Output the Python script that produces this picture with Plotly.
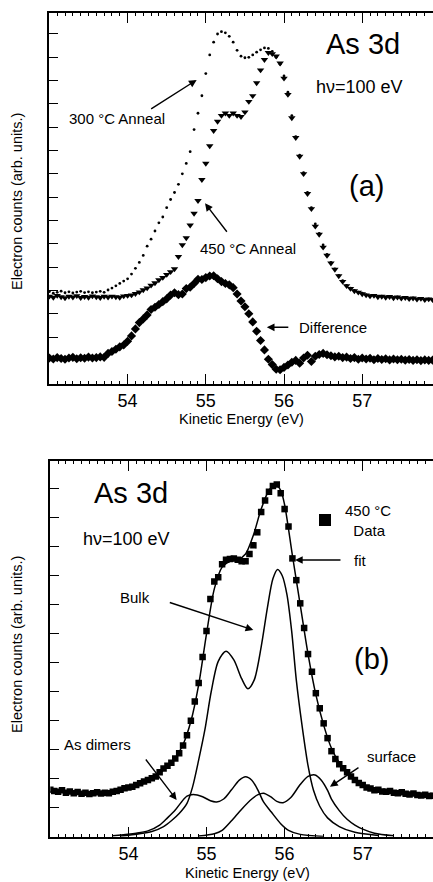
import plotly.graph_objects as go

# ---------------------------------------------------------------- data
# kinetic energy grid (eV) shared by the measured spectra
energy_ev = [53.00, 53.05, 53.10, 53.15, 53.20, 53.25, 53.30, 53.35, 53.40, 53.45,
             53.50, 53.55, 53.60, 53.65, 53.70, 53.75, 53.80, 53.85, 53.90, 53.95,
             54.00, 54.05, 54.10, 54.15, 54.20, 54.25, 54.30, 54.35, 54.40, 54.45,
             54.50, 54.55, 54.60, 54.65, 54.70, 54.75, 54.80, 54.85, 54.90, 54.95,
             55.00, 55.05, 55.10, 55.15, 55.20, 55.25, 55.30, 55.35, 55.40, 55.45,
             55.50, 55.55, 55.60, 55.65, 55.70, 55.75, 55.80, 55.85, 55.90, 55.95,
             56.00, 56.05, 56.10, 56.15, 56.20, 56.25, 56.30, 56.35, 56.40, 56.45,
             56.50, 56.55, 56.60, 56.65, 56.70, 56.75, 56.80, 56.85, 56.90, 56.95,
             57.00, 57.05, 57.10, 57.15, 57.20, 57.25, 57.30, 57.35, 57.40, 57.45,
             57.50, 57.55, 57.60, 57.65, 57.70, 57.75, 57.80, 57.85, 57.90]

# (a) As 3d after 300 C anneal (arb. units)
anneal_300 = [3.95, 3.88, 3.92, 3.97, 3.90, 3.94, 3.89, 3.93, 3.96, 3.91,
              3.94, 3.90, 3.93, 3.96, 3.92, 4.02, 4.10, 4.20, 4.30, 4.40,
              4.50, 4.70, 4.95, 5.20, 5.50, 5.90, 6.20, 6.55, 6.90, 7.15,
              7.55, 7.90, 8.20, 8.55, 9.00, 9.45, 9.95, 10.90, 11.60, 12.35,
              13.30, 14.10, 14.65, 15.00, 15.10, 15.05, 14.90, 14.65, 14.30, 14.05,
              13.98, 14.00, 14.10, 14.22, 14.32, 14.40, 14.38, 14.25, 14.00, 13.70,
              13.20, 12.50, 11.50, 10.60, 9.80, 9.05, 8.20, 7.55, 6.85, 6.45,
              5.95, 5.55, 5.20, 4.92, 4.65, 4.42, 4.22, 4.10, 4.00, 3.93,
              3.88, 3.82, 3.78, 3.79, 3.74, 3.76, 3.72, 3.74, 3.70, 3.72,
              3.68, 3.70, 3.66, 3.68, 3.64, 3.66, 3.62, 3.64, 3.61]

# (a) As 3d after 450 C anneal
anneal_450 = [3.75, 3.70, 3.78, 3.72, 3.68, 3.74, 3.71, 3.77, 3.69, 3.73,
              3.70, 3.76, 3.72, 3.69, 3.74, 3.71, 3.75, 3.72, 3.70, 3.76,
              3.78, 3.80, 3.86, 3.93, 4.02, 4.10, 4.22, 4.32, 4.45, 4.55,
              4.68, 4.80, 4.92, 5.45, 5.95, 6.25, 6.80, 7.30, 7.85, 8.75,
              9.45, 10.20, 10.85, 11.25, 11.50, 11.60, 11.50, 11.60, 11.50, 11.45,
              11.65, 12.10, 12.35, 12.90, 13.45, 13.90, 14.20, 14.15, 14.05, 13.75,
              13.10, 12.40, 11.40, 10.55, 9.75, 9.00, 8.15, 7.50, 6.75, 6.40,
              5.85, 5.50, 5.17, 4.90, 4.62, 4.38, 4.20, 4.08, 3.98, 3.92,
              3.85, 3.80, 3.76, 3.78, 3.72, 3.74, 3.70, 3.73, 3.68, 3.71,
              3.66, 3.69, 3.64, 3.67, 3.62, 3.65, 3.60, 3.63, 3.60]

# (a) difference spectrum (offset)
difference = [1.10, 1.06, 1.12, 1.08, 1.05, 1.10, 1.13, 1.07, 1.11, 1.09,
              1.14, 1.10, 1.12, 1.15, 1.13, 1.30, 1.38, 1.48, 1.58, 1.66,
              1.82, 2.05, 2.35, 2.62, 2.78, 2.95, 3.18, 3.28, 3.40, 3.52,
              3.64, 3.80, 3.90, 3.82, 3.85, 4.08, 4.14, 4.30, 4.48, 4.47,
              4.55, 4.62, 4.63, 4.50, 4.38, 4.30, 4.24, 4.12, 3.85, 3.55,
              3.30, 3.00, 2.65, 2.25, 1.85, 1.45, 1.05, 0.82, 0.62, 0.60,
              0.70, 0.80, 0.92, 1.00, 0.88, 1.10, 1.22, 0.95, 1.18, 1.25,
              1.30, 1.24, 1.20, 1.15, 1.18, 1.12, 1.14, 1.08, 1.12, 1.05,
              1.10, 1.06, 1.09, 1.03, 1.08, 1.04, 1.07, 1.02, 1.06, 1.03,
              1.05, 1.01, 1.04, 1.00, 1.03, 0.99, 1.02, 1.00, 1.01]

# (b) 450 C data used for the line-shape fit
data_450 = [1.62, 1.58, 1.55, 1.60, 1.52, 1.56, 1.50, 1.54, 1.48, 1.52,
            1.47, 1.50, 1.53, 1.49, 1.52, 1.50, 1.55, 1.58, 1.62, 1.67,
            1.70, 1.72, 1.78, 1.84, 1.90, 1.96, 2.02, 2.08, 2.22, 2.35,
            2.45, 2.55, 2.70, 2.88, 3.15, 3.50, 4.00, 4.66, 5.30, 6.20,
            7.10, 8.20, 8.80, 8.95, 9.40, 9.55, 9.58, 9.60, 9.55, 9.50,
            9.50, 9.75, 10.05, 10.50, 11.20, 11.60, 11.90, 12.10, 12.15, 11.85,
            11.30, 10.70, 9.60, 8.85, 8.05, 7.20, 6.30, 5.69, 4.95, 4.43,
            3.91, 3.40, 2.95, 2.68, 2.50, 2.36, 2.22, 2.08, 1.96, 1.85,
            1.78, 1.70, 1.66, 1.60, 1.62, 1.56, 1.55, 1.58, 1.52, 1.50,
            1.53, 1.48, 1.46, 1.49, 1.44, 1.42, 1.45, 1.40, 1.41]

# (b) total fit
fit_ev = [53.0, 53.5, 53.9, 54.1, 54.3, 54.5, 54.6, 54.7, 54.8, 54.9, 55.0, 55.1,
          55.2, 55.3, 55.4, 55.5, 55.6, 55.7, 55.8, 55.88, 55.95, 56.0, 56.1, 56.2,
          56.3, 56.4, 56.5, 56.6, 56.7, 56.8, 56.9, 57.0, 57.2, 57.5, 57.9]
fit_val = [1.55, 1.52, 1.60, 1.74, 1.98, 2.42, 2.72, 3.18, 3.98, 5.25, 7.00, 8.55,
           9.30, 9.50, 9.55, 9.75, 10.40, 11.30, 11.95, 12.15, 11.95, 11.45, 9.70, 8.00,
           6.30, 4.90, 3.85, 3.05, 2.55, 2.20, 1.95, 1.78, 1.60, 1.48, 1.40]

# (b) bulk component
bulk_ev = [53.9, 54.3, 54.45, 54.55, 54.65, 54.75, 54.82, 54.9, 54.98, 55.06, 55.15,
           55.25, 55.35, 55.45, 55.53, 55.61, 55.7, 55.78, 55.85, 55.91, 55.97, 56.03,
           56.09, 56.15, 56.22, 56.3, 56.37, 56.45, 56.55, 56.7, 56.9, 57.2]
bulk_val = [0.02, 0.18, 0.35, 0.55, 0.80, 1.15, 1.70, 2.65, 3.70, 5.00, 6.05,
            6.40, 6.10, 5.45, 5.10, 5.40, 6.55, 7.90, 8.90, 9.22, 9.00, 8.35,
            7.10, 5.40, 3.90, 2.45, 1.60, 1.05, 0.65, 0.35, 0.15, 0.04]

# (b) As-dimer component
dimer_ev = [53.8, 54.1, 54.25, 54.4, 54.5, 54.6, 54.68, 54.75, 54.83, 54.95, 55.05,
            55.13, 55.22, 55.32, 55.42, 55.5, 55.58, 55.66, 55.73, 55.83, 55.95,
            56.05, 56.2, 56.5]
dimer_val = [0.03, 0.12, 0.20, 0.40, 0.65, 0.92, 1.20, 1.40, 1.46, 1.38, 1.24,
             1.20, 1.30, 1.62, 1.95, 2.07, 1.95, 1.60, 1.20, 0.85, 0.45,
             0.22, 0.08, 0.01]

# (b) surface component
surface_ev = [54.9, 55.1, 55.2, 55.32, 55.45, 55.58, 55.66, 55.73, 55.82, 55.9, 55.98,
              56.08, 56.2, 56.3, 56.39, 56.47, 56.55, 56.6, 56.7, 56.8, 56.9, 57.0,
              57.15, 57.4]
surface_val = [0.02, 0.10, 0.22, 0.55, 0.95, 1.30, 1.45, 1.50, 1.38, 1.22, 1.17,
               1.35, 1.80, 2.08, 2.13, 1.95, 1.60, 1.30, 0.90, 0.60, 0.40, 0.26,
               0.12, 0.03]

x_major = [54, 55, 56, 57]
x_half = [53.5, 54.5, 55.5, 56.5, 57.5]

# ---------------------------------------------------------------- figure
W, H = 433, 882
FONT = "Liberation Sans, Arial, Helvetica, sans-serif"
INK = "black"


def px(x):
    return x / W


def py(y):
    return 1 - y / H


fig = go.Figure()

# panel (a)
fig.add_trace(go.Scatter(x=energy_ev, y=anneal_300, mode="markers", xaxis="x", yaxis="y",
                         marker=dict(symbol="circle", size=2.8, color=INK),
                         showlegend=False))
fig.add_trace(go.Scatter(x=energy_ev, y=anneal_450, mode="markers", xaxis="x", yaxis="y",
                         marker=dict(symbol="triangle-down", size=6.5, color=INK),
                         showlegend=False))
fig.add_trace(go.Scatter(x=energy_ev, y=difference, mode="markers", xaxis="x", yaxis="y",
                         marker=dict(symbol="diamond", size=7, color=INK),
                         showlegend=False))

# panel (b)
line_style = dict(color=INK, width=1.5, shape="spline", smoothing=0.8)
for xs, ys in ((bulk_ev, bulk_val), (dimer_ev, dimer_val), (surface_ev, surface_val)):
    fig.add_trace(go.Scatter(x=xs, y=ys, mode="lines", xaxis="x2", yaxis="y2",
                             line=line_style, showlegend=False))
fig.add_trace(go.Scatter(x=fit_ev, y=fit_val, mode="lines", xaxis="x2", yaxis="y2",
                         line=line_style, showlegend=False))
fig.add_trace(go.Scatter(x=energy_ev, y=data_450, mode="markers", xaxis="x2", yaxis="y2",
                         marker=dict(symbol="square", size=6.5, color=INK),
                         name="450 °C<br>\u00a0\u00a0Data", showlegend=True))

# ---------------------------------------------------------------- axes
# left/bottom frame plus top ticks; the right border lies just past the page
frame = dict(showline=True, linecolor=INK, linewidth=1.6,
             ticks="inside", tickcolor=INK, showgrid=False, zeroline=False)

x_common = dict(frame, mirror="ticks", tickvals=x_major, ticklen=10, tickwidth=1.3,
                tickfont=dict(family=FONT, size=18, color=INK),
                minor=dict(dtick=0.1, tick0=53.0, ticklen=3, tickwidth=1,
                           ticks="inside", tickcolor=INK))
x_half_ticks = dict(frame, mirror="ticks", tickvals=x_half, ticklen=6, tickwidth=1.1,
                    showticklabels=False)
y_left = dict(frame, mirror=False, dtick=1, tick0=0, ticklen=9, tickwidth=1.3,
              showticklabels=False)
y_right = dict(showline=False, ticks="inside", tickcolor=INK, ticklen=3, tickwidth=1.3,
               dtick=1, tick0=0, showticklabels=False, showgrid=False,
               zeroline=False, side="right")

dom_a_x = [px(49), 1]
dom_a_y = [py(383.7), py(13)]
dom_b_x = [px(50.3), 1]
dom_b_y = [py(836.7), py(461)]

fig.update_layout(
    xaxis=dict(x_common, domain=dom_a_x, range=[52.995, 57.905], anchor="y"),
    yaxis=dict(y_left, domain=dom_a_y, range=[0, 15.9], anchor="x"),
    xaxis3=dict(x_half_ticks, overlaying="x", range=[52.995, 57.905], anchor="y"),
    yaxis3=dict(y_right, overlaying="y", range=[0, 15.9], anchor="x"),
    xaxis2=dict(x_common, domain=dom_b_x, range=[53.0, 57.9], anchor="y2"),
    yaxis2=dict(y_left, domain=dom_b_y, range=[0, 12.96], anchor="x2"),
    xaxis4=dict(x_half_ticks, overlaying="x2", range=[53.0, 57.9], anchor="y2"),
    yaxis4=dict(y_right, overlaying="y2", range=[0, 12.96], anchor="x2"),
)

# ---------------------------------------------------------------- text
ann = []


def label(text, x, y, size=15, angle=0):
    ann.append(dict(text=text, x=px(x), y=py(y), xref="paper", yref="paper",
                    xanchor="center", yanchor="middle", showarrow=False,
                    textangle=angle, font=dict(family=FONT, size=size, color=INK)))


def arrow(xref, yref, x, y, ax, ay):
    ann.append(dict(text="", x=x, y=y, xref=xref, yref=yref, ax=ax, ay=ay,
                    showarrow=True, arrowhead=2, arrowsize=1.1, arrowwidth=1.4,
                    arrowcolor=INK, standoff=0))


# panel (a)
label("As 3d", 363, 44, 29)
label("hν=100 eV", 359, 87, 18)
label("(a)", 366, 186, 29)
label("300 °C Anneal", 117, 118)
label("450 °C Anneal", 247.5, 249)
label("Difference", 333, 327.5)
label("Kinetic Energy (eV)", 241.7, 419, 14.5)
label("Electron counts (arb. units.)", 17, 202, 14.5, -90)
arrow("x", "y", 54.883, 13.03, -47, 30)
arrow("x", "y", 54.99, 7.74, 23, 30)
arrow("x", "y", 55.78, 2.42, 23, 0)

# panel (b)
label("As 3d", 131, 493, 29)
label("hν=100 eV", 127, 539, 18)
label("fit", 360, 560)
label("Bulk", 135, 597)
label("(b)", 371, 659, 29)
label("As dimers", 97, 744)
label("surface", 391, 756)
label("Kinetic Energy (eV)", 247.5, 872.5, 14.5)
label("Electron counts (arb. units.)", 17, 645, 14.5, -90)
arrow("x2", "y2", 56.133, 9.545, 47, 0)
arrow("x2", "y2", 55.599, 7.13, -85, -28)
arrow("x2", "y2", 54.618, 1.266, -32, -42)
arrow("x2", "y2", 56.581, 1.725, 30, -20)

fig.update_layout(
    width=W, height=H,
    margin=dict(l=0, r=0, t=0, b=0),
    paper_bgcolor="white", plot_bgcolor="white",
    font=dict(family=FONT, color=INK),
    annotations=ann,
    legend=dict(x=px(305), y=py(494), xanchor="left", yanchor="top",
                bgcolor="rgba(0,0,0,0)", borderwidth=0,
                font=dict(family=FONT, size=15, color=INK),
                itemsizing="constant", tracegroupgap=0),
)

fig.write_html("out.html")
